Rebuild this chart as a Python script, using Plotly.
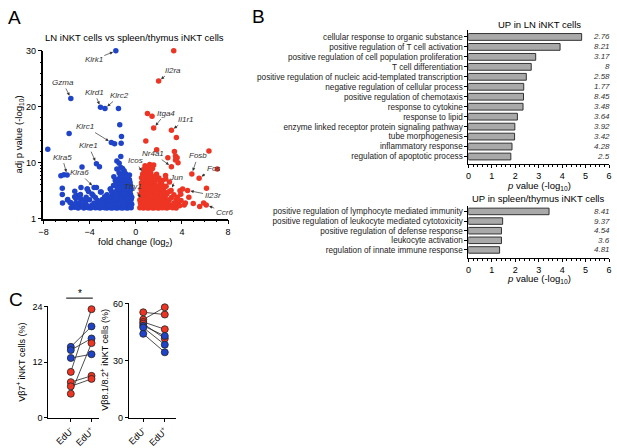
import numpy as np
import plotly.graph_objects as go

W, H = 617, 448
FONT = "Liberation Sans, Arial, sans-serif"
BLUE = "#1f44c9"
RED = "#ee3524"

# ---------------- panel A: volcano ----------------
genes = ["Klrk1", "Gzma", "Klrd1", "Klrc2", "Klrc1", "Klre1", "Klra5", "Klra6",
         "Il2ra", "Itga4", "Il1r1", "Icos", "Nr4a1", "Fosb", "Fos", "Jun", "Thy1", "Il23r", "Ccr6"]
gene_fc = [-1.73, -5.63, -3.06, -2.67, -2.12, -3.41, -5.95, -3.61,
           1.98, 1.55, 3.09, 0.64, 3.09, 4.86, 5.49, 3.06, 0.55, 4.49, 6.11]
gene_p = [30.0, 21.5, 19.9, 19.7, 13.6, 9.6, 6.0, 3.6,
          24.6, 16.2, 15.8, 6.4, 8.5, 6.3, 5.25, 3.2, 2.15, 3.2, 1.75]

# (log2 fold change, adj p value -log10)
blue_pts = [
    (-1.5, 19.7), (-1.39, 16.8), (-5.78, 15.2), (-1.24, 14.7), (-1.84, 13.4), (-1.27, 13.5),
    (-7.63, 12.4), (-1.30, 11.1), (-1.64, 10.3), (-3.15, 8.5), (-4.66, 8.4), (-1.44, 9.75),
    (-1.30, 8.2), (-6.49, 5.85), (-6.23, 6.1), (-6.37, 3.5), (-6.37, 2.7), (-4.75, 3.6),
    (-5.12, 2.6), (-3.41, 3.6), (-6.35, 1.9), (-5.29, 3.1), (-4.21, 3.4), (-5.2, 2.3),
    (-5.92, 2.15), (-5.63, 1.92), (-4.78, 2.3), (-4.35, 2.0), (-3.7, 2.6), (-3.06, 3.0),
    (-2.78, 2.15), (-2.5, 2.6), (-2.21, 3.4), (-1.93, 3.9), (-1.78, 4.8), (-1.64, 7.7),
    (-1.01, 7.2), (-1.21, 6.3), (-0.64, 5.1), (-0.9, 6.4), (-0.55, 6.0), (-1.45, 6.6),
    (-1.15, 7.9), (-0.8, 5.4), (-1.9, 5.6),
    (-5.6, 1.56), (-5.3, 1.6), (-5.0, 1.55), (-4.8, 1.62), (-4.5, 1.55), (-4.3, 1.6),
    (-4.1, 1.57), (-3.9, 1.55), (-3.7, 1.63), (-3.5, 1.56), (-3.3, 1.58), (-3.1, 1.55),
    (-2.9, 1.6), (-2.7, 1.56), (-2.5, 1.55), (-2.35, 1.62), (-2.2, 1.57), (-2.05, 1.55),
    (-1.9, 1.6), (-1.75, 1.56), (-1.6, 1.55), (-1.45, 1.6), (-1.3, 1.57), (-1.15, 1.55),
    (-1.0, 1.6), (-0.85, 1.56), (-0.7, 1.55), (-0.55, 1.6), (-0.4, 1.56),
    (-5.45, 1.75), (-5.15, 1.7), (-4.65, 1.74), (-4.2, 1.7), (-3.8, 1.76), (-3.4, 1.72),
    (-3.0, 1.7), (-2.6, 1.75), (-2.3, 1.72), (-2.0, 1.7), (-1.7, 1.76), (-1.4, 1.72),
    (-1.1, 1.7), (-0.8, 1.75), (-0.5, 1.72), (-0.35, 1.8),
    (-5.7, 1.95), (-5.2, 1.88), (-4.9, 1.92), (-4.4, 1.97), (-3.6, 1.9), (-3.2, 1.93),
    (-2.8, 1.88), (-2.4, 1.95), (-2.1, 1.9), (-1.85, 1.93), (-1.6, 1.88), (-1.35, 1.95),
    (-1.1, 1.9), (-0.9, 1.94), (-0.65, 1.88), (-0.45, 1.95),
    (-5.9, 2.2), (-4.6, 2.15), (-4.0, 2.18), (-3.3, 2.12), (-2.9, 2.2), (-2.5, 2.15),
    (-2.2, 2.1), (-1.95, 2.2), (-1.7, 2.14), (-1.5, 2.18), (-1.25, 2.12), (-1.0, 2.2),
    (-0.8, 2.15), (-0.6, 2.1), (-0.4, 2.2),
    (-5.3, 2.45), (-4.3, 2.4), (-3.5, 2.38), (-2.7, 2.45), (-2.3, 2.4), (-1.9, 2.42),
    (-1.65, 2.38), (-1.45, 2.45), (-1.2, 2.4), (-0.95, 2.44), (-0.75, 2.38), (-0.55, 2.42),
    (-0.35, 2.4),
    (-4.8, 2.7), (-3.8, 2.75), (-2.5, 2.68), (-2.0, 2.72), (-1.75, 2.7), (-1.5, 2.76),
    (-1.3, 2.68), (-1.05, 2.72), (-0.85, 2.7), (-0.65, 2.75), (-0.45, 2.7),
    (-4.1, 3.05), (-3.0, 3.0), (-2.1, 3.02), (-1.85, 2.98), (-1.55, 3.05), (-1.35, 3.0),
    (-1.15, 3.04), (-0.95, 2.98), (-0.7, 3.02), (-0.5, 3.05),
    (-4.2, 3.4), (-2.2, 3.38), (-1.6, 3.42), (-1.4, 3.36), (-1.2, 3.42), (-1.0, 3.38),
    (-0.8, 3.44), (-0.6, 3.38), (-0.4, 3.4),
    (-1.9, 3.9), (-1.5, 3.85), (-1.25, 3.92), (-1.05, 3.88), (-0.85, 3.95), (-0.65, 3.88),
    (-0.45, 3.92),
    (-1.7, 4.4), (-1.3, 4.35), (-1.1, 4.45), (-0.9, 4.4), (-0.7, 4.38), (-0.5, 4.45),
    (-1.55, 5.0), (-1.15, 4.95), (-0.95, 5.05), (-0.75, 5.0), (-0.55, 4.95),
    (-1.35, 5.7), (-1.0, 5.65), (-0.7, 5.75),
]

red_pts = [
    (3.29, 30.0), (1.01, 18.8), (1.41, 18.3), (3.52, 14.5), (0.87, 13.9), (1.81, 12.3),
    (3.35, 12.0), (6.34, 12.1), (3.44, 11.2), (3.58, 10.9), (3.44, 10.5), (3.66, 10.0),
    (2.78, 10.9), (1.21, 9.3), (1.55, 9.1), (7.06, 7.7), (6.13, 3.5), (2.58, 5.9),
    (4.06, 3.4), (3.83, 3.16), (4.98, 1.87), (5.54, 1.65), (5.88, 1.9), (3.92, 2.1),
    (0.92, 7.7), (2.92, 4.5), (2.63, 3.8), (2.2, 4.5), (0.9, 6.8), (1.2, 7.3), (0.7, 7.6),
    (0.6, 6.2), (1.0, 6.0), (1.3, 6.6), (1.6, 5.5), (1.8, 6.2), (2.0, 5.3), (2.3, 4.8),
    (1.15, 8.3), (0.8, 8.8), (1.45, 7.9), (0.5, 5.4), (1.75, 4.9),
    (0.35, 1.56), (0.5, 1.6), (0.65, 1.55), (0.8, 1.6), (0.95, 1.56), (1.1, 1.55),
    (1.25, 1.62), (1.4, 1.56), (1.55, 1.55), (1.7, 1.6), (1.85, 1.57), (2.0, 1.55),
    (2.15, 1.6), (2.3, 1.56), (2.5, 1.58), (2.7, 1.55), (2.9, 1.6), (3.2, 1.56), (3.5, 1.55),
    (0.45, 1.74), (0.7, 1.7), (0.9, 1.75), (1.15, 1.72), (1.35, 1.7), (1.6, 1.76),
    (1.8, 1.72), (2.05, 1.7), (2.25, 1.75), (2.45, 1.72), (2.65, 1.7), (3.0, 1.74),
    (3.4, 1.72), (3.8, 1.7), (4.2, 1.75),
    (0.4, 1.92), (0.6, 1.88), (0.85, 1.95), (1.05, 1.9), (1.3, 1.93), (1.5, 1.88),
    (1.75, 1.95), (1.95, 1.9), (2.2, 1.92), (2.4, 1.88), (2.8, 1.95), (3.3, 1.9),
    (3.7, 1.93), (4.3, 1.9),
    (0.35, 2.15), (0.55, 2.2), (0.8, 2.12), (1.0, 2.18), (1.2, 2.15), (1.45, 2.2),
    (1.7, 2.12), (1.9, 2.18), (2.1, 2.15), (2.35, 2.2), (2.6, 2.12), (2.9, 2.18), (3.5, 2.15),
    (0.5, 2.4), (0.75, 2.45), (0.95, 2.38), (1.15, 2.42), (1.4, 2.4), (1.65, 2.45),
    (1.85, 2.38), (2.05, 2.42), (2.3, 2.4), (2.55, 2.45), (3.1, 2.38), (3.6, 2.42), (4.6, 2.4),
    (0.4, 2.7), (0.65, 2.75), (0.9, 2.68), (1.1, 2.72), (1.35, 2.7), (1.6, 2.76),
    (1.8, 2.68), (2.0, 2.72), (2.3, 2.7), (2.7, 2.75), (3.3, 2.68), (3.9, 2.72),
    (0.5, 3.0), (0.8, 3.05), (1.05, 2.98), (1.3, 3.02), (1.55, 3.05), (1.75, 2.98),
    (2.1, 3.02), (2.5, 3.0), (2.9, 3.05),
    (0.45, 3.4), (0.7, 3.44), (0.95, 3.38), (1.2, 3.42), (1.45, 3.36), (1.7, 3.42),
    (2.0, 3.4), (2.4, 3.38),
    (0.55, 3.9), (0.85, 3.85), (1.1, 3.95), (1.35, 3.88), (1.65, 3.92), (1.95, 3.88), (2.3, 3.95),
    (0.5, 4.4), (0.75, 4.35), (1.0, 4.45), (1.3, 4.4), (1.6, 4.38), (2.1, 4.42),
    (0.6, 5.0), (0.9, 4.95), (1.2, 5.05), (1.5, 5.0), (2.6, 5.1),
    (0.75, 5.7), (1.05, 5.65), (1.4, 5.75),
]

# ---------------- panel B: GO terms ----------------
ln_terms = ["cellular response to organic substance", "positive regulation of T cell activation",
            "positive regulation of cell population proliferation", "T cell differentiation",
            "positive regulation of nucleic acid-templated transcription",
            "negative regulation of cellular process", "positive regulation of chemotaxis",
            "response to cytokine", "response to lipid",
            "enzyme linked receptor protein signaling pathway", "tube morphogenesis",
            "inflammatory response", "regulation of apoptotic process"]
ln_pval = [4.83, 3.91, 2.87, 2.68, 2.47, 2.36, 2.35, 2.33, 2.09, 1.98, 1.97, 1.86, 1.81]
ln_enrich = ["2.76", "8.21", "3.17", "8", "2.58", "1.77", "8.45", "3.48", "3.64", "3.92",
             "3.42", "4.28", "2.5"]

st_terms = ["positive regulation of lymphocyte mediated immunity",
            "positive regulation of leukocyte mediated cytotoxicity",
            "positive regulation of defense response", "leukocyte activation",
            "regulation of innate immune response"]
st_pval = [3.44, 1.46, 1.41, 1.41, 1.33]
st_enrich = ["8.41", "9.37", "4.54", "3.6", "4.81"]

# ---------------- panel C: paired EdU- / EdU+ ----------------
edu_labels = ["EdU<sup>-</sup>", "EdU<sup>+</sup>"]
vb7_neg = [15.3, 14.6, 12.9, 9.9, 7.7, 6.8, 5.2]
vb7_pos = [19.7, 17.1, 13.7, 23.4, 9.05, 8.4, 16.1]
vb7_grp = ["b", "b", "b", "r", "r", "r", "r"]
vb8_neg = [55.4, 51.6, 50.3, 49.4, 48.3, 47.4, 44.1]
vb8_pos = [54.2, 58.0, 46.5, 41.6, 43.0, 38.4, 34.4]
vb8_grp = ["r", "r", "r", "r", "b", "b", "b"]


def px_x(x):
    return x / W


def px_y(y):
    return 1 - y / H


def seg(v):
    # split axis like the original: log scale 1-10, linear 10-30
    v = np.asarray(v, dtype=float)
    return np.where(v <= 10, np.log10(np.maximum(v, 1e-9)), 1 + (v - 10) / 10)


fig = go.Figure()

# volcano points
all_fc = [p[0] for p in blue_pts] + [p[0] for p in red_pts] + gene_fc
all_p = [p[1] for p in blue_pts] + [p[1] for p in red_pts] + gene_p
cols = [BLUE if f < 0 else RED for f in all_fc]
fig.add_trace(go.Scatter(x=all_fc, y=seg(all_p), mode="markers",
                         marker=dict(size=5.5, color=cols, line=dict(width=0)),
                         cliponaxis=False, xaxis="x", yaxis="y"))

# gene labels (text offset in px from the point)
label_offsets = {
    "Klrk1": (-22, 9), "Gzma": (-8, -16), "Klrd1": (-6, -15), "Klrc2": (15, -13),
    "Klrc1": (-26, -16), "Klre1": (-8, -18), "Klra5": (-5, -18), "Klra6": (-15, -15),
    "Il2ra": (14, -11), "Itga4": (12, -15), "Il1r1": (15, -11), "Icos": (-8, -13),
    "Nr4a1": (-18, -13), "Fosb": (6, -18), "Fos": (14, -10), "Jun": (5, -13),
    "Thy1": (-9, -14), "Il23r": (25, 5), "Ccr6": (18, 7),
}
for g, f, p in zip(genes, gene_fc, gene_p):
    ax, ay = label_offsets[g]
    fig.add_annotation(x=f, y=float(seg(p)), xref="x", yref="y", text=f"<i>{g}</i>",
                       ax=ax, ay=ay, showarrow=True, arrowhead=2, arrowsize=0.9,
                       arrowwidth=0.7, arrowcolor="#333", standoff=3,
                       font=dict(size=8, color="#333", family=FONT))

# GO bars, one row per term (top to bottom)
ln_rows = list(range(len(ln_terms)))
st_rows = list(range(len(st_terms)))
bar_style = dict(color="#a9a9a9", line=dict(color="#333", width=1))
fig.add_trace(go.Bar(y=ln_rows, x=ln_pval, orientation="h", width=0.68,
                     marker=bar_style, xaxis="x2", yaxis="y2"))
fig.add_trace(go.Bar(y=st_rows, x=st_pval, orientation="h", width=0.68,
                     marker=bar_style, xaxis="x3", yaxis="y3"))
for r, e in zip(ln_rows, ln_enrich):
    fig.add_annotation(x=px_x(615), y=r, xref="paper", yref="y2", text=f"<i>{e}</i>",
                       showarrow=False, xanchor="right",
                       font=dict(size=8, color="#333", family=FONT))
for r, e in zip(st_rows, st_enrich):
    fig.add_annotation(x=px_x(615), y=r, xref="paper", yref="y3", text=f"<i>{e}</i>",
                       showarrow=False, xanchor="right",
                       font=dict(size=8, color="#333", family=FONT))

# paired dot plots
for neg, pos, grp, xa, ya in [(vb7_neg, vb7_pos, vb7_grp, "x4", "y4"),
                              (vb8_neg, vb8_pos, vb8_grp, "x5", "y5")]:
    for a, b in zip(neg, pos):
        fig.add_trace(go.Scatter(x=[0, 1], y=[a, b], mode="lines",
                                 line=dict(color="#222", width=0.8),
                                 xaxis=xa, yaxis=ya))
    for xi, vals in [(0, neg), (1, pos)]:
        fig.add_trace(go.Scatter(x=[xi] * len(vals), y=vals, mode="markers",
                                 marker=dict(size=7, color=[BLUE if g == "b" else RED for g in grp],
                                             line=dict(color="#222", width=0.8)),
                                 cliponaxis=False, xaxis=xa, yaxis=ya))

axis_base = dict(showline=True, linecolor="black", ticks="outside", tickcolor="black",
                 showgrid=False, zeroline=False, tickfont=dict(size=9, family=FONT, color="black"))
term_font = dict(size=8.2, family=FONT, color="#222")

fig.update_layout(
    width=W, height=H, margin=dict(l=0, r=0, t=0, b=0),
    paper_bgcolor="white", plot_bgcolor="white", showlegend=False,
    font=dict(family=FONT, color="black"),
    bargap=0.3,
    xaxis=dict(axis_base, domain=[px_x(39), px_x(226)], range=[-8, 8], anchor="y",
               linewidth=1.6, tickwidth=1.4, ticklen=4, tickvals=[-8, -4, 0, 4, 8],
               minor=dict(dtick=1, ticklen=2, tickcolor="black", ticks="outside")),
    yaxis=dict(axis_base, domain=[px_y(219), px_y(47)], range=[0, 3], anchor="x",
               linewidth=1.6, tickwidth=1.4, ticklen=4,
               tickvals=seg([1, 10, 20, 30]).tolist(), ticktext=["1", "10", "20", "30"],
               minor=dict(tickvals=seg([2, 3, 4, 5, 6, 7, 8, 9, 12, 14, 16, 18, 22, 24, 26, 28]).tolist(),
                          ticklen=2, tickcolor="black", ticks="outside")),
    xaxis2=dict(axis_base, domain=[px_x(469.5), px_x(612)], range=[0, 6], anchor="y2",
                linewidth=1, ticklen=3, dtick=1,
                minor=dict(dtick=0.2, ticklen=2, tickcolor="black", ticks="outside")),
    yaxis2=dict(axis_base, domain=[px_y(162.7), px_y(26)],
                range=[12.72, -0.66], anchor="x2", linewidth=1, ticklen=3,
                tickmode="array", tickvals=ln_rows, ticktext=ln_terms, tickfont=term_font),
    xaxis3=dict(axis_base, domain=[px_x(469.5), px_x(612)], range=[0, 6], anchor="y3",
                linewidth=1, ticklen=3, dtick=1,
                minor=dict(dtick=0.2, ticklen=2, tickcolor="black", ticks="outside")),
    yaxis3=dict(axis_base, domain=[px_y(259.3), px_y(206)],
                range=[4.83, -0.57], anchor="x3", linewidth=1, ticklen=3,
                tickmode="array", tickvals=st_rows, ticktext=st_terms, tickfont=term_font),
    xaxis4=dict(axis_base, domain=[px_x(44), px_x(95)], range=[-1.08, 1.35], anchor="y4",
                linewidth=1.2, ticklen=3, tickvals=[0, 1], ticktext=edu_labels, tickangle=-45),
    yaxis4=dict(axis_base, domain=[px_y(423.3), px_y(309)], range=[0, 24], anchor="x4",
                linewidth=1.2, ticklen=3, tickvals=[0, 12, 24]),
    xaxis5=dict(axis_base, domain=[px_x(125.5), px_x(173)], range=[-0.668, 1.51], anchor="y5",
                linewidth=1.2, ticklen=3, tickvals=[0, 1], ticktext=edu_labels, tickangle=-45),
    yaxis5=dict(axis_base, domain=[px_y(423.3), px_y(306)], range=[0, 60], anchor="x5",
                linewidth=1.2, ticklen=3, tickvals=[0, 30, 60]),
)

texts = [
    ("A", 10, 13, 19, 0), ("B", 257, 12, 19, 0), ("C", 11, 302, 19, 0),
    ("LN iNKT cells vs spleen/thymus iNKT cells", 131, 33, 9.5, 0),
    ("fold change (log<sub>2</sub>)", 132, 243, 9.5, 0),
    ("adj p value (-log<sub>10</sub>)", 14, 133, 9.5, -90),
    ("UP in LN iNKT cells", 542, 20, 9.5, 0),
    ("<i>p</i> value (-log<sub>10</sub>)", 541, 186, 9.5, 0),
    ("UP in spleen/thymus iNKT cells", 540, 198, 9.5, 0),
    ("<i>p</i> value (-log<sub>10</sub>)", 541, 281, 9.5, 0),
    ("Vβ7<sup>+</sup> iNKT cells (%)", 16, 366, 9, -90),
    ("Vβ8.1/8.2<sup>+</sup> iNKT cells (%)", 101, 364, 9, -90),
    ("*", 75.5, 296, 10, 0),
]
for t, x, y, s, ang in texts:
    fig.add_annotation(x=px_x(x), y=px_y(y), xref="paper", yref="paper", text=t,
                       showarrow=False, textangle=ang, xanchor="center", yanchor="middle",
                       font=dict(size=s, family=FONT, color="black"))

# significance bar
fig.add_shape(type="line", xref="paper", yref="paper", x0=px_x(62), x1=px_x(89),
              y0=px_y(300.5), y1=px_y(300.5), line=dict(color="black", width=1))

# drop the browser's default body margin so the figure sits at the page origin
fig.write_html("out.html", config={"displayModeBar": False},
               post_script="document.body.style.margin='0';")
